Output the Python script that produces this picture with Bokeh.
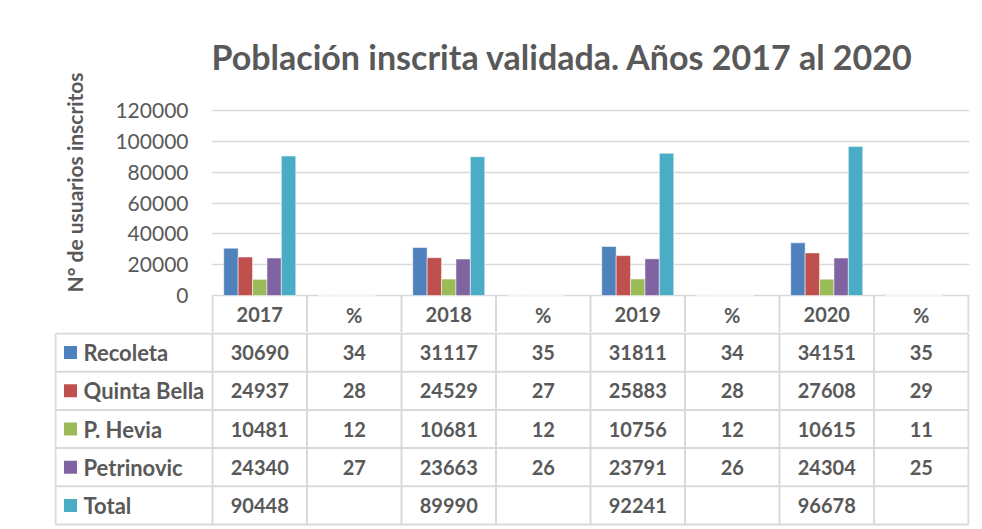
import numpy as np
from bokeh.plotting import figure
from bokeh.models import ColumnDataSource, Range1d, FixedTicker, BasicTickFormatter, Title
from bokeh.transform import dodge
from bokeh.core.properties import value
from bokeh.embed import file_html
from bokeh.resources import INLINE

# ---------------- data ----------------
columns = ["2017", "%", "2018", "%", "2019", "%", "2020", "%"]
series_names = ["Recoleta", "Quinta Bella", "P. Hevia", "Petrinovic", "Total"]
recoleta = [30690, 34, 31117, 35, 31811, 34, 34151, 35]
quinta_bella = [24937, 28, 24529, 27, 25883, 28, 27608, 29]
p_hevia = [10481, 12, 10681, 12, 10756, 12, 10615, 11]
petrinovic = [24340, 27, 23663, 26, 23791, 26, 24304, 25]
total = [90448, None, 89990, None, 92241, None, 96678, None]
y_ticks = [0, 20000, 40000, 60000, 80000, 100000, 120000]
colors = ["#4F81BD", "#C0504D", "#9BBB59", "#8064A2", "#4BACC6"]

series = [recoleta, quinta_bella, p_hevia, petrinovic, total]
GRAY = "#595959"
LINE = "#d9d9d9"
FONT = "Lato"
W = 980

n = len(columns)
xc = np.arange(n) + 0.5
px_unit = 94.5            # pixels per category column

# ---------------- chart (with header row of the data table) ----------------
H1 = 332
upp = 120000 / 185.0      # data units per pixel
y_top = 120000 + 1 * upp
y_bot = -37 * upp
top = figure(width=W, height=H1,
             x_range=Range1d(-1 / px_unit, n + 1 / px_unit),
             y_range=Range1d(y_bot, y_top),
             output_backend="svg", toolbar_location=None,
             min_border_left=211, min_border_right=W - 969, min_border_top=109,
             min_border_bottom=0, x_axis_location=None)
top.outline_line_color = None

src = {"x": xc}
for i, s in enumerate(series):
    src["s%d" % i] = [np.nan if v is None else v for v in s]
source = ColumnDataSource(src)

bw = 0.1524
for i, c in enumerate(colors):
    top.vbar(x=dodge("x", (i - 2) * bw, range=top.x_range), top="s%d" % i,
             width=bw, bottom=0, source=source, fill_color=c,
             line_color="white", line_alpha=0.5, line_width=1)

yax = top.yaxis[0]
yax.ticker = FixedTicker(ticks=y_ticks)
yax.formatter = BasicTickFormatter(use_scientific=False)
yax.axis_line_color = None
yax.major_tick_line_color = None
yax.minor_tick_line_color = None
yax.major_tick_out = 0
yax.major_label_standoff = 23
yax.major_label_text_font = FONT
yax.major_label_text_font_size = "21px"
yax.major_label_text_color = GRAY

ylab = Title(text="N° de usuarios inscritos", align="left", offset=40,
             text_font=FONT, text_font_size="21px", text_font_style="bold",
             text_color=GRAY, standoff=52)
top.add_layout(ylab, "left")

top.ygrid.ticker = FixedTicker(ticks=y_ticks)
top.ygrid.grid_line_color = LINE
top.ygrid.grid_line_width = 1.5
for g in top.xgrid:
    g.visible = False

top.title.text = "Población inscrita validada. Años 2017 al 2020"
top.title.align = "left"
top.title.offset = 0
top.title.text_font = FONT
top.title.text_font_size = "34px"
top.title.text_font_style = "bold"
top.title.text_color = GRAY
top.title.standoff = 65

text_kw = dict(text_font=value(FONT), text_font_style="bold",
               text_color=GRAY, text_baseline="middle")

# header row cells
vx = list(range(0, n + 1))
top.segment(x0=vx, x1=vx, y0=[0] * len(vx), y1=[y_bot] * len(vx),
            line_color=LINE, line_width=2)
top.text(x=xc, y=[-19 * upp] * n, text=columns, text_align="center",
         text_font_size="20px", **text_kw)

# ---------------- data table body ----------------
H2 = 194
leg_left = -(212 - 55) / px_unit
row_px = (524 - 333) / 5.0
tbl = figure(width=W, height=H2,
             x_range=Range1d(-(212 - 54) / px_unit, n + 1 / px_unit),
             y_range=Range1d(1 + (526 - 333) / row_px, 1 - 1 / row_px),
             output_backend="svg", toolbar_location=None,
             min_border_left=54, min_border_right=W - 969, min_border_top=0,
             min_border_bottom=0, x_axis_location=None, y_axis_location=None)
tbl.outline_line_color = None
for g in list(tbl.xgrid) + list(tbl.ygrid):
    g.visible = False

nrows = len(series_names) + 1
hy = list(range(1, nrows + 1))
tbl.segment(x0=[leg_left] * len(hy), x1=[n] * len(hy), y0=hy, y1=hy,
            line_color=LINE, line_width=2)
tbl.segment(x0=vx, x1=vx, y0=[1] * len(vx), y1=[nrows] * len(vx),
            line_color=LINE, line_width=2)
tbl.segment(x0=[leg_left], x1=[leg_left], y0=[1], y1=[nrows],
            line_color=LINE, line_width=2)

cx, cy, ct = [], [], []
for r, s in enumerate(series):
    for j, v in enumerate(s):
        cx.append(xc[j])
        cy.append(r + 1.5)
        ct.append("" if v is None else str(v))
tbl.text(x=cx, y=cy, text=ct, text_align="center", text_font_size="20px",
         **text_kw)

ry = [r + 1.5 for r in range(len(series_names))]
tbl.scatter(x=[leg_left + 15 / px_unit] * len(ry), y=ry, marker="square",
            size=13, fill_color=colors, line_color=None)
tbl.text(x=[leg_left + 28 / px_unit] * len(ry), y=ry, text=series_names,
         text_align="left", text_font_size="22px", **text_kw)

open("out.html", "w").write(file_html([top, tbl], INLINE))
